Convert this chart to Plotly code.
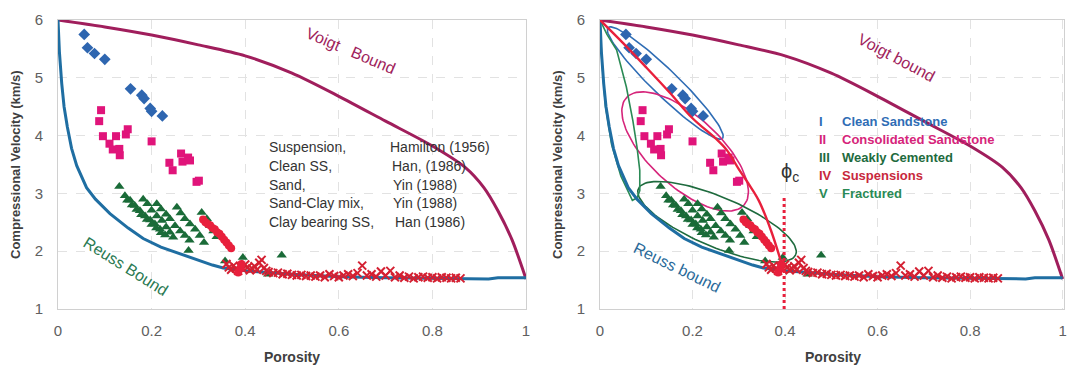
import math
import plotly.graph_objects as go

# ---------------- data ----------------
# Voigt (upper) bound, porosity vs Vp (km/s)
voigt_phi = [0.0, 0.1, 0.2, 0.3, 0.4, 0.5, 0.6, 0.7, 0.8, 0.87, 0.91, 0.94, 0.97, 1.0]
voigt_vp = [6.0, 5.88, 5.74, 5.57, 5.38, 5.08, 4.68, 4.25, 3.82, 3.45, 3.1, 2.7, 2.2, 1.52]

# Reuss (lower) bound
reuss_phi = [0.0, 0.003, 0.008, 0.013, 0.02, 0.029, 0.04, 0.061, 0.08, 0.111, 0.15, 0.182,
             0.22, 0.254, 0.3, 0.33, 0.353, 0.4, 0.5, 0.6, 0.7, 0.8, 0.9, 0.92, 0.94, 1.0]
reuss_vp = [6.0, 5.45, 4.9, 4.5, 4.15, 3.78, 3.48, 3.1, 2.9, 2.65, 2.4, 2.22,
            2.07, 1.97, 1.84, 1.76, 1.71, 1.66, 1.6, 1.56, 1.54, 1.53, 1.52, 1.52, 1.54, 1.54]

# Clean sandstone (Han, 1986)
clean_phi = [0.056, 0.063, 0.078, 0.10, 0.155, 0.179, 0.184, 0.197, 0.20, 0.223]
clean_vp = [5.75, 5.52, 5.42, 5.32, 4.81, 4.70, 4.64, 4.47, 4.42, 4.34]

# Consolidated sandstone
cons_phi = [0.092, 0.088, 0.096, 0.11, 0.124, 0.117, 0.131, 0.132, 0.145, 0.149,
            0.20, 0.238, 0.245, 0.263, 0.266, 0.278, 0.282, 0.296, 0.301]
cons_vp = [4.44, 4.25, 3.99, 3.86, 3.99, 3.76, 3.77, 3.66, 4.02, 4.11,
           3.90, 3.53, 3.40, 3.69, 3.55, 3.62, 3.57, 3.20, 3.22]

# Sand (Yin, 1988)
sand_phi = [0.31, 0.315, 0.32, 0.325, 0.33, 0.335, 0.34, 0.345, 0.35, 0.355, 0.36, 0.365,
            0.37, 0.385, 0.39, 0.392]
sand_vp = [2.55, 2.5, 2.47, 2.45, 2.4, 2.38, 2.33, 2.3, 2.25, 2.2, 2.15, 2.1,
           2.05, 1.63, 1.7, 1.78]

# Sand-clay mix / clay bearing sandstone
clay_phi = [0.131, 0.143, 0.154, 0.164, 0.175, 0.186, 0.197, 0.207, 0.218, 0.229,
            0.182, 0.191, 0.200, 0.211, 0.222, 0.231, 0.239, 0.246,
            0.211, 0.220, 0.231, 0.239, 0.250, 0.261, 0.271, 0.281,
            0.254, 0.262, 0.271, 0.282, 0.293, 0.303, 0.312,
            0.307, 0.318, 0.325, 0.332, 0.339,
            0.148, 0.158, 0.168, 0.178, 0.190, 0.200, 0.210, 0.220,
            0.279, 0.357, 0.395, 0.449, 0.478]
clay_vp = [3.12, 2.96, 2.88, 2.79, 2.70, 2.61, 2.54, 2.47, 2.38, 2.28,
           2.90, 2.82, 2.71, 2.61, 2.53, 2.42, 2.33, 2.24,
           2.82, 2.73, 2.64, 2.56, 2.44, 2.35, 2.27, 2.19,
           2.76, 2.66, 2.56, 2.47, 2.38, 2.27, 2.15,
           2.67, 2.56, 2.44, 2.35, 2.25,
           2.88, 2.80, 2.72, 2.63, 2.55, 2.46, 2.40, 2.32,
           2.01, 1.83, 1.89, 1.60, 1.93]

# Suspensions (Hamilton, 1956)
susp_phi = [0.36, 0.365, 0.37, 0.375, 0.38, 0.385, 0.39, 0.395, 0.40, 0.405, 0.41, 0.415,
            0.42, 0.425, 0.43, 0.435, 0.44, 0.445, 0.45, 0.46, 0.47, 0.48, 0.49, 0.50,
            0.51, 0.52, 0.53, 0.54, 0.55, 0.56, 0.57, 0.58, 0.59, 0.60, 0.61, 0.62,
            0.63, 0.64, 0.65, 0.66, 0.67, 0.68, 0.69, 0.70, 0.71, 0.72, 0.73, 0.74,
            0.75, 0.76, 0.77, 0.78, 0.79, 0.80, 0.81, 0.82, 0.83, 0.84, 0.85, 0.86]
susp_vp = [1.78, 1.72, 1.68, 1.75, 1.70, 1.66, 1.73, 1.69, 1.77, 1.72, 1.67, 1.70,
           1.74, 1.68, 1.80, 1.85, 1.71, 1.66, 1.64, 1.62, 1.63, 1.60, 1.61, 1.59,
           1.58, 1.59, 1.57, 1.58, 1.56, 1.58, 1.55, 1.60, 1.57, 1.55, 1.58, 1.60,
           1.57, 1.62, 1.75, 1.58, 1.60, 1.56, 1.65, 1.58, 1.66, 1.55, 1.58, 1.54,
           1.56, 1.53, 1.55, 1.56, 1.54, 1.55, 1.53, 1.55, 1.54, 1.53, 1.54, 1.53]

# Trend line from mineral point to critical porosity
trend_phi = [0.0, 0.05, 0.1, 0.15, 0.2, 0.25, 0.275, 0.30, 0.32, 0.343, 0.37, 0.395]
trend_vp = [6.0, 5.6, 5.18, 4.75, 4.30, 3.95, 3.74, 3.42, 3.18, 2.88, 2.35, 1.72]

# Fractured domain outline (right edge, then back up along the Reuss side)
frac_phi = [0.0, 0.015, 0.036, 0.057, 0.071, 0.080, 0.086, 0.086, 0.080, 0.070,
            0.045, 0.025, 0.012, 0.004, 0.0]
frac_vp = [6.0, 5.75, 5.48, 4.84, 4.26, 3.80, 3.40, 3.05, 2.92, 2.88,
           3.30, 3.85, 4.50, 5.30, 6.0]

phi_c = 0.398
phi_c_top = 2.93

# Ellipse domains: centre (phi, Vp), semi-axes (px), tilt (deg)
domain_names = ["Clean Sandstone", "Consolidated Sandstone", "Weakly Cemented"]
domain_cx = [0.141, 0.184, 0.253]
domain_cy = [4.91, 3.726, 2.51]
domain_a = [80, 80, 86]
domain_b = [13, 35, 25]
domain_tilt = [43.7, 42, 22.5]
domain_col = ["#2f6db5", "#d6247a", "#1e6b3e"]

legend_num = ["I", "II", "III", "IV", "V"]
legend_txt = ["Clean Sandstone", "Consolidated Sandstone", "Weakly Cemented",
              "Suspensions", "Fractured"]
legend_col = ["#2f6db5", "#d6247a", "#1e6b3e", "#c8283c", "#2a8a55"]

source_left = ["Suspension,", "Clean SS,", "Sand,", "Sand-Clay mix,", "Clay bearing SS,"]
source_right = ["Hamilton (1956)", "Han, (1986)", "Yin (1988)", "Yin (1988)", "Han (1986)"]

# ---------------- styling ----------------
W, H = 1071, 372
FONT = "Liberation Sans, Arial, sans-serif"
C_VOIGT = "#a01e5c"
C_REUSS = "#1f6ea2"
C_CLEAN = "#2e66b0"
C_CONS = "#e0147a"
C_SAND = "#e8203c"
C_CLAY = "#1a6b38"
C_SUSP = "#d42032"

# px scale of the plotting area (for ellipse geometry)
PX_X = 467.0
PX_Y = 57.7

fig = go.Figure()


def add_common(xa, ya):
    fig.add_trace(go.Scatter(x=voigt_phi, y=voigt_vp, mode="lines", line=dict(color=C_VOIGT, width=3),
                             xaxis=xa, yaxis=ya, showlegend=False, line_shape="spline",
                             line_smoothing=0.8))
    fig.add_trace(go.Scatter(x=reuss_phi, y=reuss_vp, mode="lines", line=dict(color=C_REUSS, width=3),
                             xaxis=xa, yaxis=ya, showlegend=False))


def add_points(xa, ya):
    fig.add_trace(go.Scatter(x=clay_phi, y=clay_vp, mode="markers",
                             marker=dict(symbol="triangle-up", size=9, color=C_CLAY),
                             xaxis=xa, yaxis=ya, showlegend=False))
    fig.add_trace(go.Scatter(x=clean_phi, y=clean_vp, mode="markers",
                             marker=dict(symbol="diamond", size=9, color=C_CLEAN),
                             xaxis=xa, yaxis=ya, showlegend=False))
    fig.add_trace(go.Scatter(x=cons_phi, y=cons_vp, mode="markers",
                             marker=dict(symbol="square", size=8, color=C_CONS),
                             xaxis=xa, yaxis=ya, showlegend=False))
    fig.add_trace(go.Scatter(x=susp_phi, y=susp_vp, mode="markers",
                             marker=dict(symbol="x-thin", size=8, color=C_SUSP,
                                         line=dict(color=C_SUSP, width=2)),
                             xaxis=xa, yaxis=ya, showlegend=False))
    fig.add_trace(go.Scatter(x=sand_phi, y=sand_vp, mode="markers",
                             marker=dict(symbol="circle", size=8, color=C_SAND),
                             xaxis=xa, yaxis=ya, showlegend=False))


# left panel
add_common("x", "y")
add_points("x", "y")

# right panel: domains first, then data on top
for cx, cy, a, b, tilt, col in zip(domain_cx, domain_cy, domain_a, domain_b, domain_tilt, domain_col):
    th = math.radians(tilt)
    ex, ey = [], []
    for k in range(121):
        t = 2 * math.pi * k / 120
        dx = a * math.cos(t) * math.cos(th) - b * math.sin(t) * math.sin(th)
        dy = a * math.cos(t) * math.sin(th) + b * math.sin(t) * math.cos(th)
        ex.append(cx + dx / PX_X)
        ey.append(cy - dy / PX_Y)
    fig.add_trace(go.Scatter(x=ex, y=ey, mode="lines", line=dict(color=col, width=1.6),
                             xaxis="x2", yaxis="y2", showlegend=False))

fig.add_trace(go.Scatter(x=frac_phi, y=frac_vp, mode="lines", line=dict(color="#2a8a55", width=1.6),
                         xaxis="x2", yaxis="y2", showlegend=False))
add_common("x2", "y2")
add_points("x2", "y2")
fig.add_trace(go.Scatter(x=trend_phi, y=trend_vp, mode="lines", line=dict(color="#e8203c", width=2.4),
                         xaxis="x2", yaxis="y2", showlegend=False, line_shape="spline"))
fig.add_trace(go.Scatter(x=[phi_c, phi_c], y=[1.0, phi_c_top], mode="lines",
                         line=dict(color="#e8203c", width=3, dash="dot"),
                         xaxis="x2", yaxis="y2", showlegend=False))

# ---------------- axes ----------------
# long transparent ticks push the labels away from the frame
axis_common = dict(tickvals=[0, 0.2, 0.4, 0.6, 0.8, 1],
                   ticktext=["0", "0.2", "0.4", "0.6", "0.8", "1"],
                   showgrid=True, gridcolor="#e2e2e2", griddash="dash", gridwidth=1,
                   showline=True, linecolor="#d0d0d0", linewidth=1, mirror=True,
                   ticks="outside", ticklen=8, tickcolor="rgba(0,0,0,0)",
                   ticklabeloverflow="allow",
                   tickfont=dict(family=FONT, size=15, color="#606060"),
                   zeroline=False, fixedrange=True)
yaxis_common = dict(range=[1, 6], tickvals=[1, 2, 3, 4, 5, 6],
                    showgrid=True, gridcolor="#e2e2e2", griddash="dash", gridwidth=1,
                    showline=True, linecolor="#d0d0d0", linewidth=1, mirror=True,
                    ticks="outside", ticklen=11, tickcolor="rgba(0,0,0,0)",
                    tickfont=dict(family=FONT, size=15, color="#606060"),
                    zeroline=False, fixedrange=True)

y_dom = [1 - 309 / H, 1 - 20 / H]
fig.update_layout(
    width=W, height=H,
    margin=dict(l=0, r=0, t=0, b=0, autoexpand=False),
    paper_bgcolor="white", plot_bgcolor="white",
    showlegend=False,
    xaxis=dict(domain=[58 / W, 526 / W], anchor="y", range=[0, 1], **axis_common),
    yaxis=dict(domain=y_dom, anchor="x", **yaxis_common),
    xaxis2=dict(domain=[600 / W, 1064 / W], anchor="y2", range=[0, 1.003], **axis_common),
    yaxis2=dict(domain=y_dom, anchor="x2", **yaxis_common),
)

# ---------------- text ----------------
ann = []


def ptext(px, py, text, size, color, bold=False, angle=0, xanchor="center"):
    ann.append(dict(x=px / W, y=1 - py / H, xref="paper", yref="paper", text=text,
                    showarrow=False, textangle=angle, xanchor=xanchor, yanchor="middle",
                    font=dict(family=FONT, size=size, color=color,
                              weight="bold" if bold else "normal")))


# axis titles
for cxp in (292, 833):
    ptext(cxp, 357, "Porosity", 14, "#404040", bold=True)
for cxp in (15, 557):
    ptext(cxp, 165, "Compressional Velocity (km/s)", 13, "#404040", bold=True, angle=-90)

# left panel labels
ptext(350, 51, "Voigt   Bound", 16, C_VOIGT, angle=23)
ptext(126, 266, "Reuss Bound", 16, "#2a7a52", angle=32)
rows_y = [147, 166, 185, 203, 222]
right_x = [388, 390, 391, 391, 393]
for ry, lt, rt, rx in zip(rows_y, source_left, source_right, right_x):
    ptext(267, ry, lt, 14, "#333333", xanchor="left")
    ptext(rx, ry, rt, 14, "#333333", xanchor="left")

# right panel labels
ptext(896, 58, "Voigt bound", 16, C_VOIGT, angle=28)
ptext(677, 267, "Reuss bound", 16, "#2a6a9a", angle=26)
ptext(790, 172, "ϕ<sub>c</sub>", 20, "#333333")
leg_y = [122, 139, 157, 175, 193]
for ly, num, txt, col in zip(leg_y, legend_num, legend_txt, legend_col):
    ptext(817, ly, num, 13, col, bold=True, xanchor="left")
    ptext(840, ly, txt, 13, col, bold=True, xanchor="left")

fig.update_layout(annotations=ann)

# page without the default body margin so the figure fills the window
fig.write_html("out.html", post_script="document.body.style.margin='0px';")
